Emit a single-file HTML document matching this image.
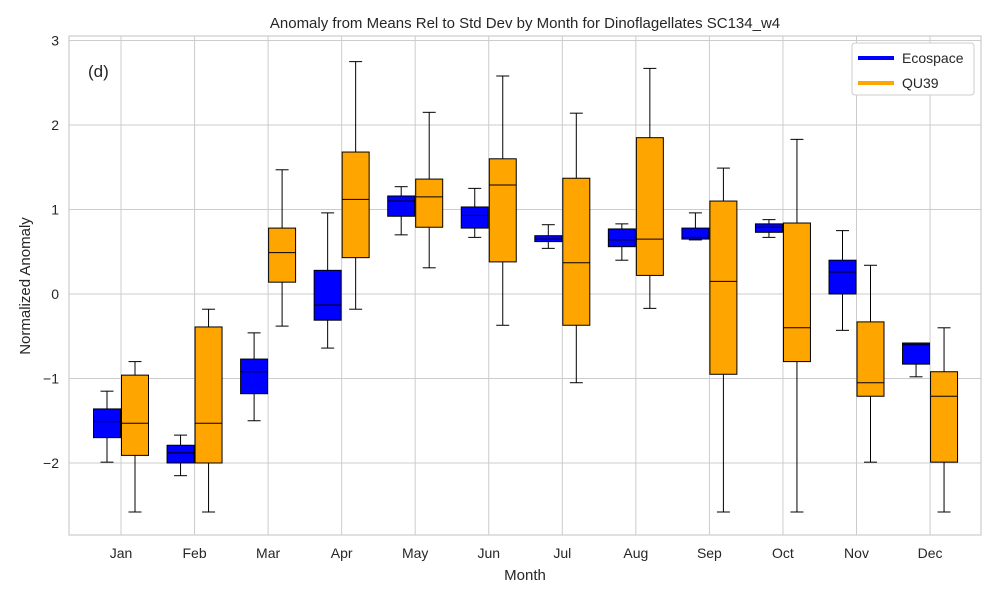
<!DOCTYPE html>
<html><head><meta charset="utf-8"><style>
body{margin:0;background:#fff;font-family:"Liberation Sans",sans-serif}
svg text{font-family:"Liberation Sans",sans-serif;fill:#262626}
</style></head><body>
<svg id="chart" width="1000" height="600" xmlns="http://www.w3.org/2000/svg"></svg>
<script>
const months=["Jan","Feb","Mar","Apr","May","Jun","Jul","Aug","Sep","Oct","Nov","Dec"];
const yTicks=[-2,-1,0,1,2,3];
const yTickLabels=["\u22122","\u22121","0","1","2","3"];
// [low, q1, median, q3, high]
const ecoStats=[
[-1.99,-1.70,-1.51,-1.36,-1.15],[-2.15,-2.0,-1.88,-1.79,-1.67],[-1.50,-1.18,-0.92,-0.77,-0.46],
[-0.64,-0.31,-0.13,0.28,0.96],[0.70,0.92,1.10,1.16,1.27],[0.67,0.78,0.93,1.03,1.25],
[0.54,0.62,0.65,0.69,0.82],[0.40,0.56,0.64,0.77,0.83],[0.64,0.65,0.67,0.78,0.96],
[0.67,0.73,0.79,0.83,0.88],[-0.43,0,0.26,0.40,0.75],[-0.98,-0.83,-0.60,-0.58,-0.58]];
const quStats=[
[-2.58,-1.91,-1.53,-0.96,-0.80],[-2.58,-2.0,-1.53,-0.39,-0.18],[-0.38,0.14,0.49,0.78,1.47],
[-0.18,0.43,1.12,1.68,2.75],[0.31,0.79,1.15,1.36,2.15],[-0.37,0.38,1.29,1.60,2.58],
[-1.05,-0.37,0.37,1.37,2.14],[-0.17,0.22,0.65,1.85,2.67],[-2.58,-0.95,0.15,1.10,1.49],
[-2.58,-0.80,-0.40,0.84,1.83],[-1.99,-1.21,-1.05,-0.33,0.34],[-2.58,-1.99,-1.21,-0.92,-0.40]];
const NS="http://www.w3.org/2000/svg",svg=document.getElementById("chart");
const L=69,R=981,T=36,B=535;
const y=v=>294-84.5*v;
const x=i=>121+i*73.55;
function el(t,a,p){const e=document.createElementNS(NS,t);for(const k in a)e.setAttribute(k,a[k]);(p||svg).appendChild(e);return e;}
const bg=el("rect",{x:L,y:T,width:R-L,height:B-T,fill:"#fff"});


yTicks.forEach((v,i)=>{
 const g=el("line",{x1:L,x2:R,y1:y(v),y2:y(v),stroke:"#cccccc","stroke-width":1});
 
 
 const t=el("text",{x:L-10,y:y(v)+5,"text-anchor":"end","font-size":14});
 t.textContent=yTickLabels[i];
 
 
});
months.forEach((m,i)=>{
 const g=el("line",{x1:x(i),x2:x(i),y1:T,y2:B,stroke:"#cccccc","stroke-width":1});
 
 
 const t=el("text",{x:x(i),y:558,"text-anchor":"middle","font-size":14});
 t.textContent=m;
 
 
});
const frame=el("rect",{x:L,y:T,width:R-L,height:B-T,fill:"none",stroke:"#cccccc","stroke-width":1.2});


function box(s,cx,color,name){
 const g=el("g",{});
 
 
 const w=27,cap=13;
 el("line",{x1:cx,x2:cx,y1:y(s[4]),y2:y(s[3]),stroke:"#000"},g);
 el("line",{x1:cx,x2:cx,y1:y(s[1]),y2:y(s[0]),stroke:"#000"},g);
 el("line",{x1:cx-cap/2,x2:cx+cap/2,y1:y(s[4]),y2:y(s[4]),stroke:"#000"},g);
 el("line",{x1:cx-cap/2,x2:cx+cap/2,y1:y(s[0]),y2:y(s[0]),stroke:"#000"},g);
 el("rect",{x:cx-w/2,y:y(s[3]),width:w,height:Math.max(0.5,y(s[1])-y(s[3])),fill:color,stroke:"#000"},g);
 el("line",{x1:cx-w/2,x2:cx+w/2,y1:y(s[2]),y2:y(s[2]),stroke:"#000"},g);
}
months.forEach((m,i)=>{
 box(ecoStats[i],x(i)-14,"#0000ff","ecospace-box-"+m.toLowerCase());
 box(quStats[i],x(i)+14,"#ffa500","qu39-box-"+m.toLowerCase());
});
function txt(s,a,name){const t=el("text",a);t.textContent=s;return t;}
txt("Anomaly from Means Rel to Std Dev by Month for Dinoflagellates SC134_w4",{x:525,y:28,"text-anchor":"middle","font-size":15},"chart-title");
txt("Month",{x:525,y:580,"text-anchor":"middle","font-size":15},"x-axis-title");
txt("Normalized Anomaly",{x:30,y:286,"text-anchor":"middle","font-size":15,transform:"rotate(-90 30 286)"},"y-axis-title");
txt("(d)",{x:88,y:77,"font-size":17},"panel-label");
const lg=el("g",{});


el("rect",{x:852,y:43,width:122,height:52,rx:3,fill:"#fff",stroke:"#cccccc"},lg);
el("line",{x1:858,x2:894,y1:58,y2:58,stroke:"#0000ff","stroke-width":4},lg);
el("line",{x1:858,x2:894,y1:83,y2:83,stroke:"#ffa500","stroke-width":4},lg);
const t1=el("text",{x:902,y:63,"font-size":14},lg);t1.textContent="Ecospace";


const t2=el("text",{x:902,y:88,"font-size":14},lg);t2.textContent="QU39";


</script>
</body></html>
